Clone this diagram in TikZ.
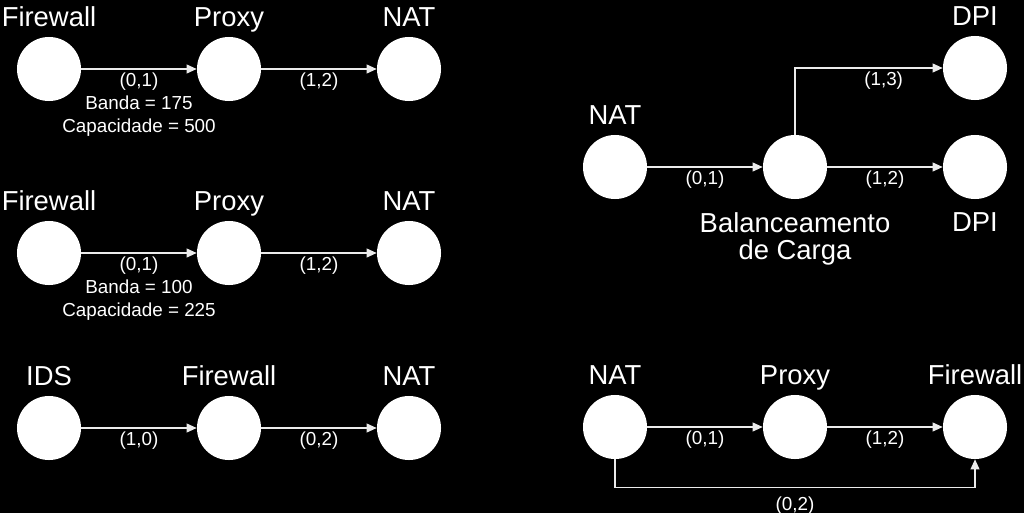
\documentclass[tikz,border=0pt]{standalone}
\usepackage{fontspec}
\setmainfont{Liberation Sans}
\usetikzlibrary{arrows.meta}

\begin{document}
\begin{tikzpicture}[
x=0.025cm, y=-0.025cm,
    V/.style = {circle, fill=white, minimum size=1.6cm, inner sep=0pt},% the functions (white discs)
    T/.style = {text=white, font=\fontsize{19.5}{19}\selectfont,% names of the functions
                inner sep=0pt, text depth=0pt, align=center, label distance=0.25cm},
    E/.style = {text=white, font=\fontsize{13.4}{16.5}\selectfont,% labels of the links
                inner sep=2pt, align=center},
    A/.style = {draw=white!92!black, line width=1pt,
                -{Triangle[length=2.5mm,width=2.2mm]}},
                        ]
\fill[black] (0,0) rectangle (1024,513);
% chain 1
\node[V,label={[T]above:Firewall}] (fw1) at (49,69)  {};
\node[V,label={[T]above:Proxy}]    (px1) at (229,69) {};
\node[V,label={[T]above:NAT}]      (nt1) at (409,69) {};
\draw[A] (fw1) -- node[E,below] {(0,1)\\Banda = 175\\Capacidade = 500} (px1);
\draw[A] (px1) -- node[E,below] {(1,2)} (nt1);
% chain 2
\node[V,label={[T]above:Firewall}] (fw2) at (49,253)  {};
\node[V,label={[T]above:Proxy}]    (px2) at (229,253) {};
\node[V,label={[T]above:NAT}]      (nt2) at (409,253) {};
\draw[A] (fw2) -- node[E,below] {(0,1)\\Banda = 100\\Capacidade = 225} (px2);
\draw[A] (px2) -- node[E,below] {(1,2)} (nt2);
% chain 3
\node[V,label={[T]above:IDS}]      (id3) at (49,428)  {};
\node[V,label={[T]above:Firewall}] (fw3) at (229,428) {};
\node[V,label={[T]above:NAT}]      (nt3) at (409,428) {};
\draw[A] (id3) -- node[E,below] {(1,0)} (fw3);
\draw[A] (fw3) -- node[E,below] {(0,2)} (nt3);
% load balancer
\node[V,label={[T]above:NAT}] (nt4) at (615,167) {};
\node[V,label={[T,label distance=0.33cm]below:{Balanceamento\\de Carga}}] (lb4) at (795,167) {};
\node[V,label={[T]above:DPI}] (dp4) at (975,68)  {};
\node[V,label={[T,label distance=0.33cm]below:DPI}] (dq4) at (975,167) {};
\draw[A] (nt4) -- node[E,below] {(0,1)} (lb4);
\draw[A] (lb4) -- node[E,below] {(1,2)} (dq4);
\draw[A] (lb4.north) |- node[E,below,pos=0.8] {(1,3)} (dp4);
% chain 5
\node[V,label={[T]above:NAT}]      (nt5) at (615,427) {};
\node[V,label={[T]above:Proxy}]    (px5) at (795,427) {};
\node[V,label={[T]above:Firewall}] (fw5) at (975,427) {};
\draw[A] (nt5) -- node[E,below] {(0,1)} (px5);
\draw[A] (px5) -- node[E,below] {(1,2)} (fw5);
\draw[A] (nt5.south) -- ++(0,28) -| node[E,below=4pt,pos=0.25] {(0,2)} (fw5.south);
\end{tikzpicture}
\end{document}
